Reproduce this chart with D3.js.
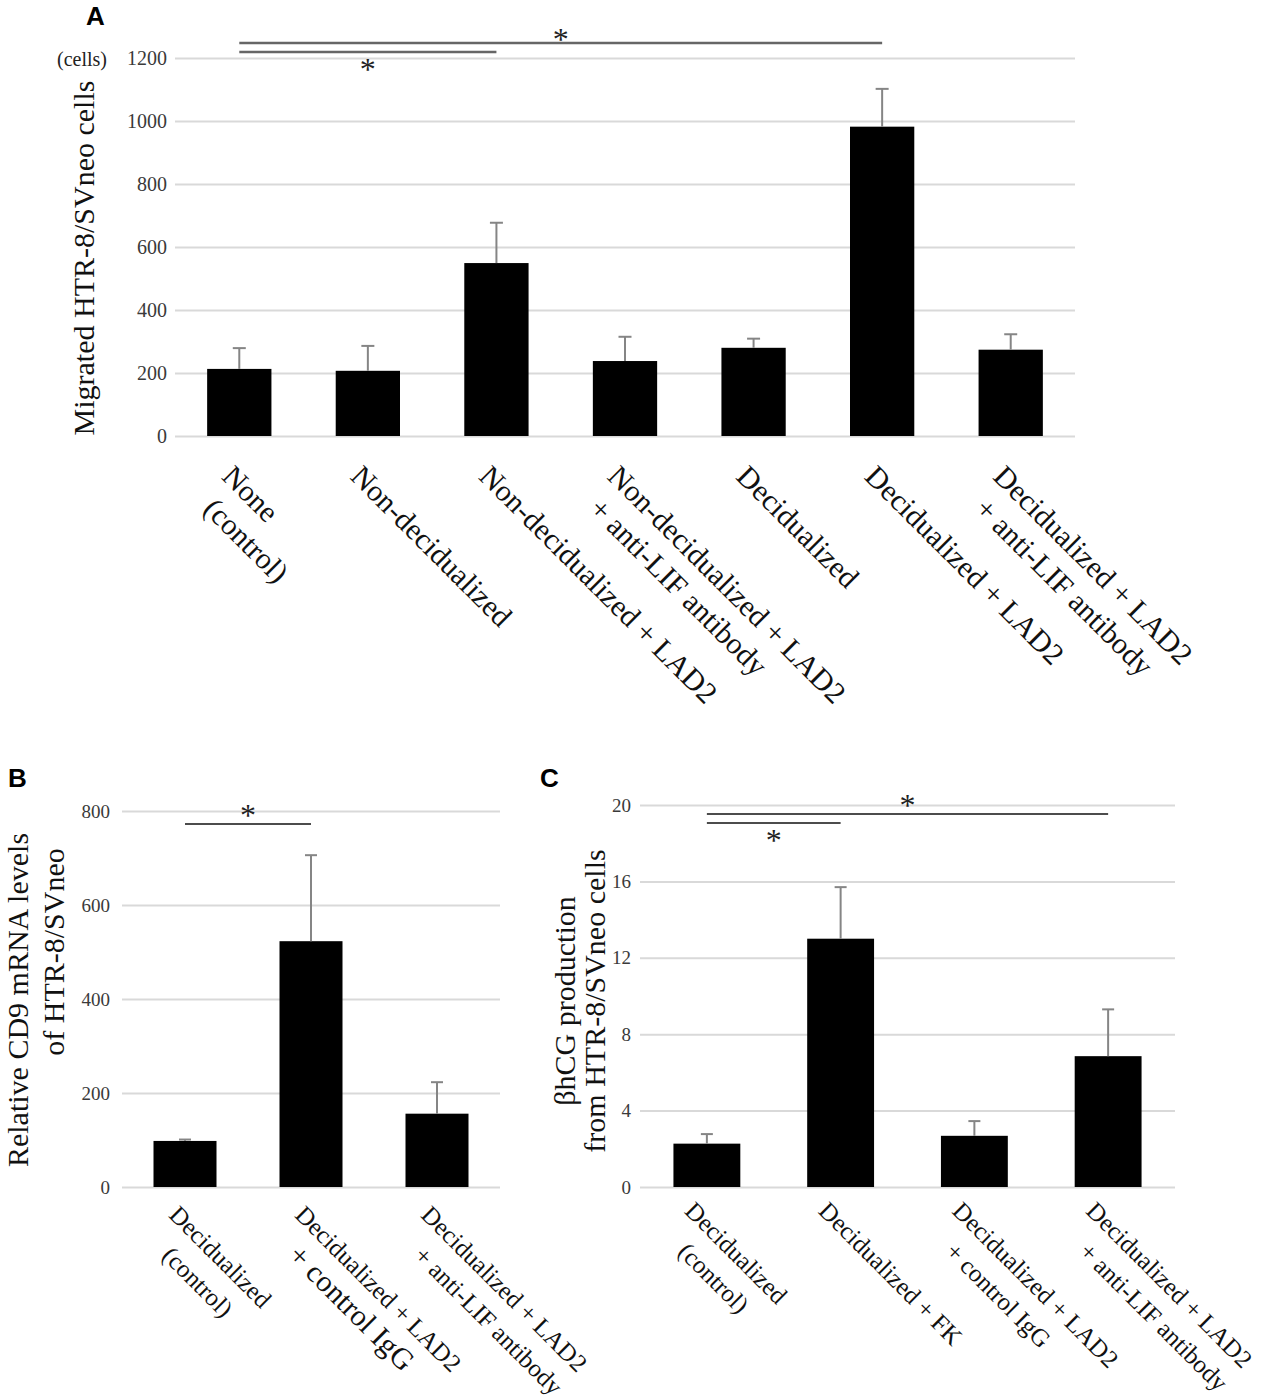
<!DOCTYPE html>
<html>
<head>
<meta charset="utf-8">
<script src="https://cdn.jsdelivr.net/npm/d3@7"></script>
<style>
  body { margin: 0; background: #fff; }
  text { font-family: 'Liberation Serif', 'Times New Roman', serif; }
  .letter { font-family: 'Liberation Sans', Arial, sans-serif; font-weight: bold; font-size: 26px; }
</style>
</head>
<body>
<div id="chart"></div>
<script>
// panel A: migrated HTR-8/SVneo cells
const labelsA = [
  ['None', '(control)'],
  ['Non-decidualized'],
  ['Non-decidualized + LAD2'],
  ['Non-decidualized + LAD2', '+ anti-LIF antibody'],
  ['Decidualized'],
  ['Decidualized + LAD2'],
  ['Decidualized + LAD2', '+ anti-LIF antibody']
]
const meansA = [213, 207, 549, 238, 280, 982, 274]
const errorsA = [66, 79, 128, 77, 29, 120, 49]
const ticksA = [0, 200, 400, 600, 800, 1000, 1200]
const sigA = [[0, 5], [0, 2]]

// panel B: relative CD9 mRNA
const labelsB = [
  ['Decidualized', '(control)'],
  ['Decidualized + LAD2', '+ control IgG'],
  ['Decidualized + LAD2', '+ anti-LIF antibody']
]
const meansB = [98, 523, 156]
const errorsB = [3, 183, 67]
const ticksB = [0, 200, 400, 600, 800]
const sigB = [[0, 1]]

// panel C: bhCG production
const labelsC = [
  ['Decidualized', '(control)'],
  ['Decidualized + FK'],
  ['Decidualized + LAD2', '+ control IgG'],
  ['Decidualized + LAD2', '+ anti-LIF antibody']
]
const meansC = [2.27, 13.0, 2.68, 6.85]
const errorsC = [0.5, 2.7, 0.77, 2.45]
const ticksC = [0, 4, 8, 12, 16, 20]
const sigC = [[0, 3], [0, 1]]

const panels = [
  {
    letter: 'A', letterPos: [86, 25],
    labels: labelsA, means: meansA, errors: errorsA, ticks: ticksA, sig: sigA,
    x0: 175, x1: 1075, yTop: 58, yBottom: 436, tickPad: 8, tickFont: 20,
    labelFont: 30, labelOffset: [-3, 26], lineHeight: 1.2, lineIndent: 10,
    titles: [{ text: 'Migrated HTR-8/SVneo cells', x: 94, y: 258 }],
    unit: { text: '(cells)', x: 82, y: 66 },
    sigY: [43, 52], starY: [35, 65], sigColor: '#666', sigWidth: 2.5, capW: 13
  },
  {
    letter: 'B', letterPos: [8, 787],
    labels: labelsB, means: meansB, errors: errorsB, ticks: ticksB, sig: sigB,
    x0: 122, x1: 500, yTop: 811, yBottom: 1187, tickPad: 12, tickFont: 19,
    labelFont: 25, labelOffset: [-4, 16], lineHeight: 1.35, lineIndent: 24,
    bigLine: { label: 1, line: 1, size: 30 },
    titles: [
      { text: 'Relative CD9 mRNA levels', x: 28, y: 1000 },
      { text: 'of HTR-8/SVneo', x: 64, y: 952 }
    ],
    sigY: [824], starY: [811], sigColor: '#111', sigWidth: 1.5, capW: 12
  },
  {
    letter: 'C', letterPos: [540, 787],
    labels: labelsC, means: meansC, errors: errorsC, ticks: ticksC, sig: sigC,
    x0: 640, x1: 1175, yTop: 805, yBottom: 1187, tickPad: 9, tickFont: 19,
    labelFont: 25, labelOffset: [-10, 12], lineHeight: 1.35, lineIndent: 24,
    titles: [
      { text: 'βhCG production', x: 575, y: 1001 },
      { text: 'from HTR-8/SVneo cells', x: 605, y: 1001 }
    ],
    sigY: [814, 823], starY: [801, 836], sigColor: '#111', sigWidth: 1.5, capW: 12
  }
]

const starFont = 32

const svg = d3.select('#chart').append('svg')
    .attr('width', 1266)
    .attr('height', 1400)

panels.forEach(p => {
  const g = svg.append('g')
  const idx = p.means.map((d, i) => i)

  // scales
  const x = d3.scaleBand()
      .domain(idx)
      .range([p.x0, p.x1])
      .paddingInner(0.5)
      .paddingOuter(0.25)
  const y = d3.scaleLinear()
      .domain([0, d3.max(p.ticks)])
      .range([p.yBottom, p.yTop])
  const cx = i => x(i) + x.bandwidth() / 2

  // grid
  g.append('g')
      .attr('transform', `translate(${p.x0},0)`)
      .call(d3.axisLeft(y)
          .tickValues(p.ticks)
          .tickSize(-(p.x1 - p.x0))
          .tickFormat('')
      )
      .call(a => a.select('.domain').remove())
      .selectAll('line')
      .attr('stroke', '#d9d9d9')
      .attr('stroke-width', 2)

  // y tick labels
  g.append('g')
      .attr('transform', `translate(${p.x0},0)`)
      .call(d3.axisLeft(y)
          .tickValues(p.ticks)
          .tickSize(0)
          .tickPadding(p.tickPad)
          .tickFormat(d3.format('d'))
      )
      .call(a => a.select('.domain').remove())
      .selectAll('text')
      .style('font-family', "'Liberation Serif', serif")
      .attr('font-size', p.tickFont)
      .attr('fill', '#3a3a3a')

  // bars
  g.selectAll('.bar')
      .data(p.means)
      .join('rect')
      .attr('x', (d, i) => x(i))
      .attr('y', d => y(d))
      .attr('width', x.bandwidth())
      .attr('height', d => p.yBottom - y(d))
      .attr('fill', '#000')

  // error bars (upper only)
  const err = g.selectAll('.err')
      .data(p.means)
      .join('g')
      .attr('stroke', '#858585')
      .attr('stroke-width', 2)
  err.append('line')
      .attr('x1', (d, i) => cx(i))
      .attr('x2', (d, i) => cx(i))
      .attr('y1', d => y(d))
      .attr('y2', (d, i) => y(d + p.errors[i]))
  err.append('line')
      .attr('x1', (d, i) => cx(i) - p.capW / 2)
      .attr('x2', (d, i) => cx(i) + p.capW / 2)
      .attr('y1', (d, i) => y(d + p.errors[i]))
      .attr('y2', (d, i) => y(d + p.errors[i]))

  // rotated category labels
  p.labels.forEach((lines, i) => {
    g.append('g')
        .attr('transform', `translate(${cx(i) + p.labelOffset[0]},${p.yBottom + p.labelOffset[1]}) rotate(45)`)
        .selectAll('text')
        .data(lines)
        .join('text')
        .attr('x', (d, j) => j * p.lineIndent)
        .attr('y', (d, j) => p.labelFont * (0.75 + j * p.lineHeight))
        .attr('font-size', (d, j) => p.bigLine && p.bigLine.label === i && p.bigLine.line === j ? p.bigLine.size : p.labelFont)
        .attr('fill', '#111')
        .text(d => d)
  })

  // axis titles
  p.titles.forEach(t => {
    g.append('text')
        .attr('transform', `translate(${t.x},${t.y}) rotate(-90)`)
        .attr('text-anchor', 'middle')
        .attr('font-size', 30)
        .attr('fill', '#111')
        .text(t.text)
  })
  if (p.unit) {
    g.append('text')
        .attr('x', p.unit.x)
        .attr('y', p.unit.y)
        .attr('text-anchor', 'middle')
        .attr('font-size', 20)
        .attr('fill', '#222')
        .text(p.unit.text)
  }

  // significance lines
  p.sig.forEach((pair, k) => {
    const xa = cx(pair[0])
    const xb = cx(pair[1])
    g.append('line')
        .attr('x1', xa)
        .attr('x2', xb)
        .attr('y1', p.sigY[k])
        .attr('y2', p.sigY[k])
        .attr('stroke', p.sigColor)
        .attr('stroke-width', p.sigWidth)
    g.append('text')
        .attr('x', (xa + xb) / 2)
        .attr('y', p.starY[k] + starFont * 0.48)
        .attr('text-anchor', 'middle')
        .attr('font-size', starFont)
        .attr('fill', '#222')
        .text('*')
  })

  // panel letter
  g.append('text')
      .attr('class', 'letter')
      .attr('x', p.letterPos[0])
      .attr('y', p.letterPos[1])
      .text(p.letter)
})
</script>
</body>
</html>
